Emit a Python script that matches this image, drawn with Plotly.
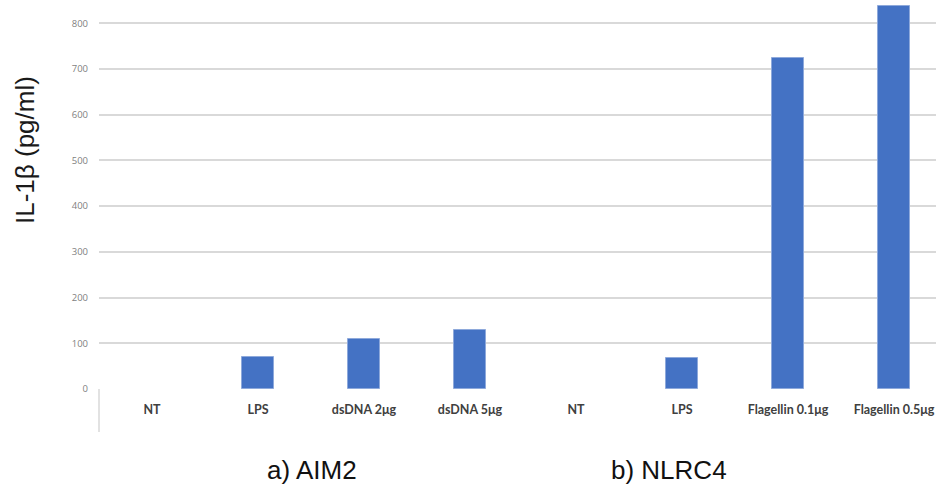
import plotly.graph_objects as go

categories = ["NT", "LPS", "dsDNA 2μg", "dsDNA 5μg", "NT", "LPS", "Flagellin 0.1μg", "Flagellin 0.5μg"]
values = [0, 71, 110, 128, 0, 68, 725, 838]
y_ticks = [0, 100, 200, 300, 400, 500, 600, 700, 800]
groups = ["a) AIM2", "b) NLRC4"]

x_pos = list(range(len(categories)))

fig = go.Figure()
fig.add_trace(go.Bar(
    x=x_pos, y=values, width=0.31,
    marker=dict(color="#4472C4",
                line=dict(color="#8EA9DB", width=[0 if v == 0 else 1 for v in values])),
    showlegend=False,
))

W, H = 936, 486
ml, mb = 99, 97
pw = W - ml
ph = H - mb
cat_px = 106

fig.update_layout(
    width=W, height=H,
    margin=dict(l=ml, r=0, t=0, b=mb),
    plot_bgcolor="white", paper_bgcolor="white",
    bargap=0,
    xaxis=dict(
        range=[-0.5, -0.5 + pw / cat_px],
        tickvals=x_pos, ticktext=categories,
        showgrid=False, zeroline=False, showline=False,
        ticks="", ticklabelstandoff=11, ticklabeloverflow="allow",
        tickfont=dict(family="Lato", size=12.5, color="#404040", weight="bold"),
    ),
    yaxis=dict(
        range=[0, 851],
        tickvals=y_ticks,
        showgrid=True, gridcolor="#D9D9D9", gridwidth=1.5,
        zeroline=False, showline=False, ticks="",
        ticklabelstandoff=10,
        tickfont=dict(family="Open Sans", size=9.5, color="#7F7F7F"),
    ),
)

fig.add_annotation(
    text="IL-1β (pg/ml)", textangle=-90,
    xref="paper", yref="paper", x=(25 - ml) / pw, y=(ph - 150) / ph,
    xanchor="center", yanchor="middle", showarrow=False,
    font=dict(family="Liberation Sans", size=26, color="#1a1a1a"),
)

for label, px in zip(groups, [312, 669]):
    fig.add_annotation(
        text=label, xref="paper", yref="paper",
        x=(px - ml) / pw, y=(ph - 470) / ph,
        xanchor="center", yanchor="middle", showarrow=False,
        font=dict(family="Liberation Sans", size=26, color="#111111"),
    )

fig.add_shape(type="line", xref="paper", yref="paper",
              x0=0, x1=0, y0=0, y1=-(432 - ph) / ph,
              line=dict(color="#D9D9D9", width=1.5))

fig.write_html("out.html", config={"displayModeBar": False},
               post_script="document.body.style.margin='0';")
